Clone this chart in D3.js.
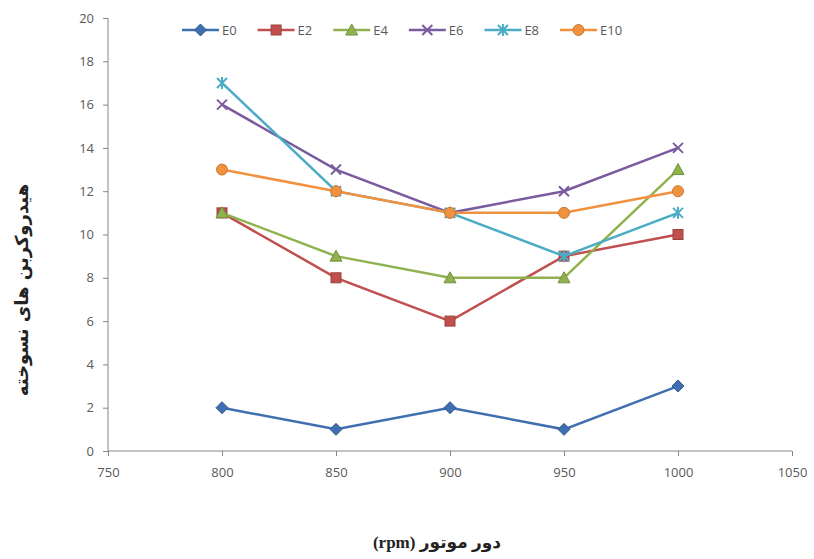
<!DOCTYPE html>
<html>
<head>
<meta charset="utf-8">
<script src="https://cdn.jsdelivr.net/npm/d3@7"></script>
<style>
  body { margin: 0; background: #fff; }
  .tick text { font-family: "Open Sans", "Liberation Sans", sans-serif; font-size: 13px; fill: #595959; }
  .tick line, .domain { stroke: #868686; }
</style>
</head>
<body>
<div id="chart"></div>
<script>
// Data
var rpm = [800, 850, 900, 950, 1000];
var seriesNames = ["E0", "E2", "E4", "E6", "E8", "E10"];
var E0  = [2, 1, 2, 1, 3];
var E2  = [11, 8, 6, 9, 10];
var E4  = [11, 9, 8, 8, 13];
var E6  = [16, 13, 11, 12, 14];
var E8  = [17, 12, 11, 9, 11];
var E10 = [13, 12, 11, 11, 12];
var xTicks = [750, 800, 850, 900, 950, 1000, 1050];
var yTicks = [0, 2, 4, 6, 8, 10, 12, 14, 16, 18, 20];

var colors = ["#3f6fb0", "#c0504d", "#8fb24f", "#7a5c9e", "#4bacc6", "#f0913f"];
var markers = ["diamond", "square", "triangle", "cross", "star", "circle"];

var series = seriesNames.map(function(name, i) {
  return { name: name, values: [E0, E2, E4, E6, E8, E10][i], color: colors[i], marker: markers[i] };
});

var svgWidth = 814;
var svgHeight = 559;
var margin = { top: 18, right: 22, bottom: 108, left: 108 };
var width = svgWidth - margin.left - margin.right;
var height = svgHeight - margin.top - margin.bottom;

var svg = d3.select("#chart")
  .append("svg")
  .attr("width", svgWidth)
  .attr("height", svgHeight);

var chartGroup = svg.append("g")
  .attr("transform", `translate(${margin.left}, ${margin.top})`);

var xScale = d3.scaleLinear().domain([750, 1050]).range([0, 684]);
var yScale = d3.scaleLinear().domain([0, 20]).range([height, 0]);

// axes
chartGroup.append("g")
  .attr("transform", `translate(0, ${height})`)
  .call(d3.axisBottom(xScale).tickValues(xTicks).tickFormat(d3.format("d")).tickSize(5).tickPadding(12))
  .call(g => g.select(".domain").attr("d", `M0,0H${xScale(1050)}`));

chartGroup.append("g")
  .call(d3.axisLeft(yScale).tickValues(yTicks).tickSize(5).tickPadding(9))
  .call(g => g.select(".domain").attr("d", `M0,${yScale(20)}V${height}`));

// marker shapes
function drawMarker(g, type, color) {
  var edge = d3.color(color).darker(0.6);
  if (type === "diamond") {
    g.append("path").attr("d", "M0,-6L6,0L0,6L-6,0Z").attr("fill", color).attr("stroke", edge);
  } else if (type === "square") {
    g.append("rect").attr("x", -5).attr("y", -5).attr("width", 10).attr("height", 10)
      .attr("fill", color).attr("stroke", edge);
  } else if (type === "triangle") {
    g.append("path").attr("d", "M0,-6L6,5L-6,5Z").attr("fill", color).attr("stroke", edge);
  } else if (type === "cross") {
    g.append("path").attr("d", "M-5,-5L5,5M-5,5L5,-5").attr("stroke", color).attr("stroke-width", 2);
  } else if (type === "star") {
    g.append("path").attr("d", "M-5,-5L5,5M-5,5L5,-5M0,-6V6").attr("stroke", color).attr("stroke-width", 2);
  } else {
    g.append("circle").attr("r", 5.5).attr("fill", color).attr("stroke", d3.color(color).darker(0.5));
  }
}

var line = d3.line()
  .x(function(d, i) { return xScale(rpm[i]); })
  .y(function(d) { return yScale(d); });

series.forEach(function(s) {
  chartGroup.append("path")
    .datum(s.values)
    .attr("d", line)
    .attr("fill", "none")
    .attr("stroke", s.color)
    .attr("stroke-width", 2.5);

  s.values.forEach(function(v, i) {
    var g = chartGroup.append("g")
      .attr("transform", `translate(${xScale(rpm[i])}, ${yScale(v)})`);
    drawMarker(g, s.marker, s.color);
  });
});

// legend
var legend = svg.append("g").attr("transform", "translate(182, 30)");
series.forEach(function(s, i) {
  var item = legend.append("g").attr("transform", `translate(${i * 75.6}, 0)`);
  item.append("line").attr("x1", 0).attr("x2", 37).attr("y1", 0).attr("y2", 0)
    .attr("stroke", s.color).attr("stroke-width", 2.5);
  var m = item.append("g").attr("transform", "translate(18.5, 0)");
  drawMarker(m, s.marker, s.color);
  item.append("text")
    .attr("x", 40).attr("y", 5)
    .attr("font-family", "Open Sans, Liberation Sans, sans-serif")
    .attr("font-size", 13)
    .attr("fill", "#595959")
    .text(s.name);
});

// axis titles
svg.append("text")
  .attr("transform", "translate(28, 290) rotate(-90)")
  .attr("text-anchor", "middle")
  .attr("font-family", "DejaVu Sans, sans-serif")
  .attr("font-weight", "bold")
  .attr("font-size", 18)
  .attr("fill", "#222")
  .text("هیدروکربن های نسوخته");

svg.append("text")
  .attr("x", 437)
  .attr("y", 548)
  .attr("text-anchor", "middle")
  .attr("direction", "rtl")
  .attr("font-family", "Liberation Serif, DejaVu Sans, serif")
  .attr("font-weight", "bold")
  .attr("font-size", 17)
  .attr("fill", "#222")
  .text("دور موتور (rpm)");
</script>
</body>
</html>
